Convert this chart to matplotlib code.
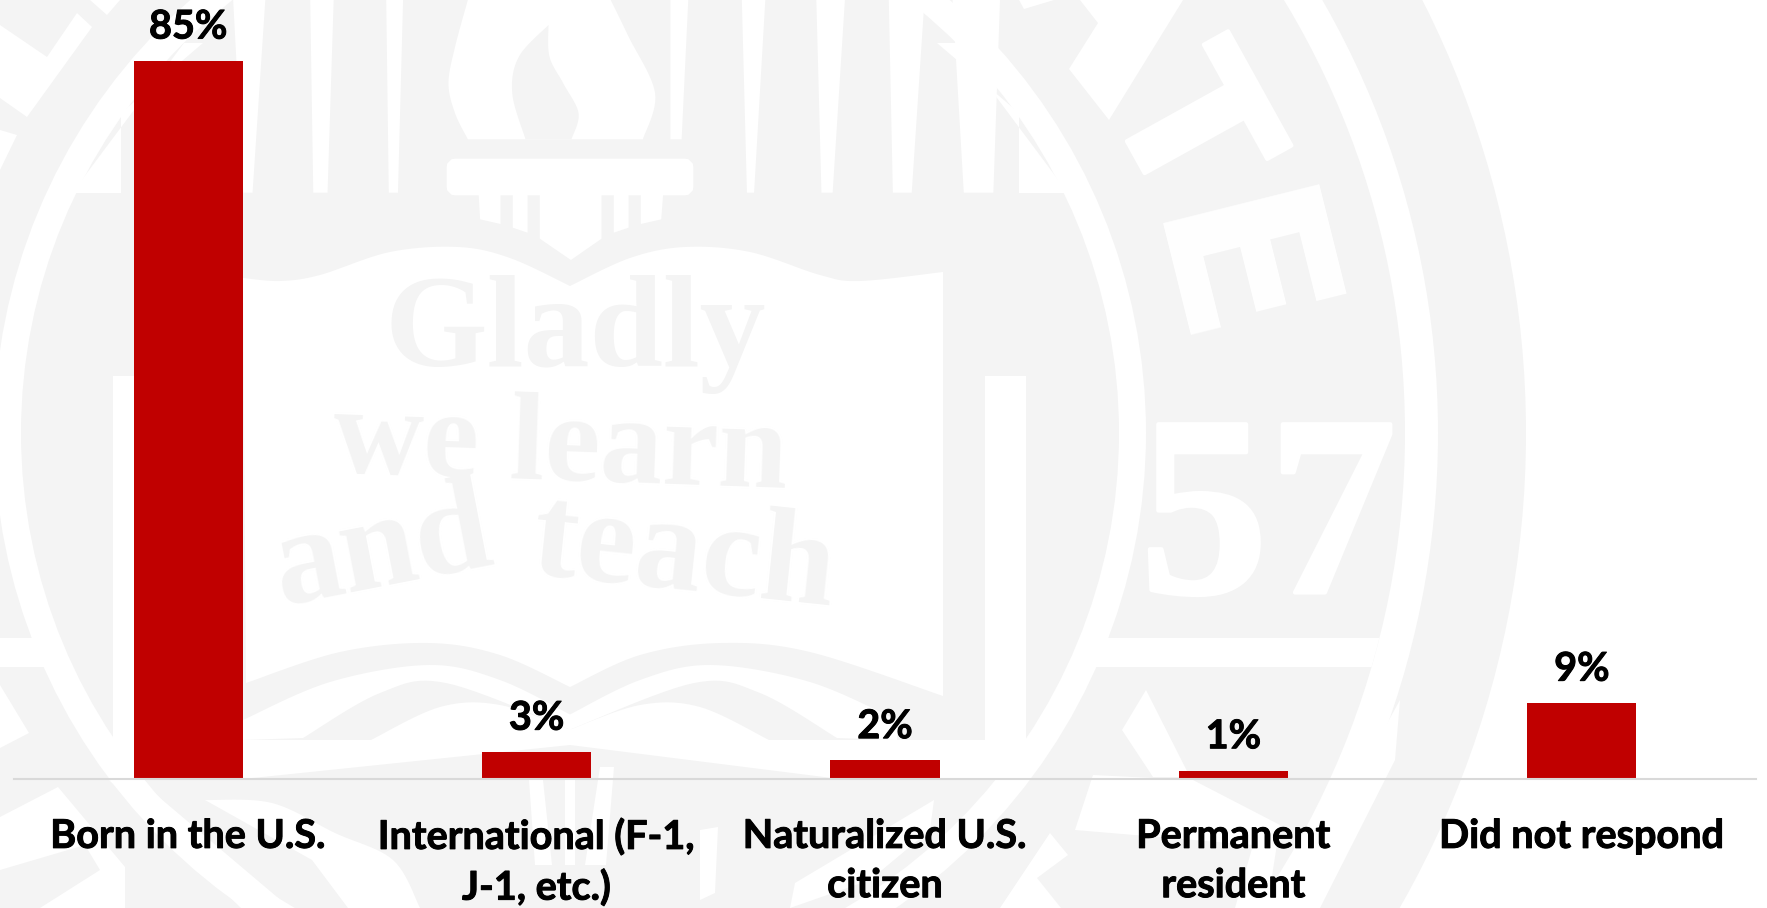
import matplotlib
matplotlib.use("Agg")
import matplotlib.pyplot as plt
import matplotlib.patheffects as pe
import numpy as np
from matplotlib.patches import Circle, Polygon, Rectangle, FancyBboxPatch

# chart data
categories = ["Born in the U.S.", "International (F-1,\nJ-1, etc.)", "Naturalized U.S.\ncitizen",
              "Permanent\nresident", "Did not respond"]
shares = [85, 3.2, 2.2, 1, 9]

BAR_RED = "#c00000"
MARK = "#f4f4f4"
FONT = "Lato"
THICK = [pe.withStroke(linewidth=0.7, foreground="black")]

fig = plt.figure(figsize=(17.67, 9.08), dpi=100, facecolor="white")

# watermark behind the chart, in pixels of the picture
bg = fig.add_axes([0, 0, 1, 1], zorder=0)
bg.set_xlim(0, 1767)
bg.set_ylim(908, 0)
bg.axis("off")

cx, cy = 570, 433


def ring(r, col):
    c = Circle((cx, cy), r, fc=col, ec="none")
    bg.add_patch(c)
    return c


def white(pts, col="white"):
    bg.add_patch(Polygon(pts, closed=True, fc=col, ec="none"))


def z2(pts):
    return [(200 + x / 1.96, y / 3) for x, y in pts]


def smooth(pts, n=12):
    # catmull-rom through the outline points
    p = np.array(pts, dtype=float)
    p = np.vstack([p[0], p, p[-1]])
    out = []
    for i in range(1, len(p) - 2):
        for t in np.linspace(0, 1, n, endpoint=False):
            out.append(0.5 * (2 * p[i] + (p[i + 1] - p[i - 1]) * t
                              + (2 * p[i - 1] - 5 * p[i] + 4 * p[i + 1] - p[i + 2]) * t ** 2
                              + (3 * p[i] - p[i - 1] - 3 * p[i + 1] + p[i + 2]) * t ** 3))
    out.append(p[-1])
    return [tuple(q) for q in out]


def mirror(pts):
    return [(2 * cx - x, y) for x, y in pts]


def letter(x, y, s, size, rot=0, col="white", lw=0, fam="Liberation Serif"):
    t = bg.text(x, y, s, color=col, fontsize=size, family=fam, weight="bold",
                rotation=rot, ha="center", va="center", rotation_mode="anchor")
    if lw:
        t.set_path_effects([pe.withStroke(linewidth=lw, foreground=col)])


ring(956, MARK)
ring(868, "white")
band = ring(835, MARK)
stripe = Rectangle((0, 638), 1767, 29, fc="white", ec="none")
bg.add_patch(stripe)
stripe.set_clip_path(band)

# ring letters
letter(1183, 131, "T", 140, -61, lw=3, fam="DejaVu Sans")
letter(1219, 281, "E", 160, -76, fam="DejaVu Sans")
letter(1268, 531, "57", 185, lw=3)

# what is left of the letters at the top edge
white([(1183, 0), (1109, 120), (1069, 69), (1098, 23), (1080, 0)])
white([(1019, 0), (1024, 9), (1054, 0)])
white([(1108, 0), (1112, 7), (1117, 0)])
white([(0, 25), (47, 57), (77, 13), (92, 27), (27, 117), (0, 98)])
white([(0, 130), (17, 135), (0, 170)])
white([(90, 0), (107, 15), (120, 0)])

# lower part of the ring band
white([(1146, 690), (1122, 730), (1153, 777), (1190, 777)])
white([(1093, 775), (1193, 780), (1280, 825), (1267, 908), (1235, 908), (1253, 845), (1075, 830)])
white([(1050, 833), (1068, 855), (1037, 878), (1061, 908), (1000, 908)])
white([(1400, 700), (1395, 760), (1320, 908), (1285, 908)])
white([(0, 685), (29, 733), (0, 748)])
white([(0, 817), (58, 787), (125, 867), (125, 908), (40, 908), (100, 870), (85, 845), (0, 870)])

ring(576, "white")
ring(549, MARK)

# rays above the torch
rays = [(65, 128, 85, 103, 578), (216, 262, 222, 250, 578), (365, 398, 370, 388, 578),
        (922, 957, 922, 944, 418), (1062, 1108, 1072, 1086, 578), (1208, 1264, 1218, 1240, 578),
        (1350, 1420, 1358, 1395, 578), (1475, 1568, 1497, 1555, 578)]
for a, b, c, d, e in rays:
    white(z2([(a, 0), (b, 0), (d, e), (c, e)]))

corner = [(72, 193), (121, 193), (121, 113), (203, 43), (184, 43)]
white(corner)
white(mirror(corner))

# torch
white(z2([(525, 418)]) + smooth(z2([(868, 418), (892, 280), (840, 110), (805, 0)])) +
      smooth(z2([(525, 0), (500, 140), (487, 250), (500, 340), (525, 418)])))
white(smooth(z2([(683, 75), (685, 170), (712, 250), (742, 340), (728, 418)])) +
      smooth(z2([(638, 418), (612, 280), (625, 170), (683, 75)])), MARK)
bg.add_patch(FancyBboxPatch((455, 167), 230, 20, boxstyle="round,pad=0,rounding_size=1",
                            fc="white", ec="white", lw=12))
white(z2([(546, 578), (908, 578), (904, 658), (864, 672), (864, 578), (840, 578), (840, 683),
          (811, 698), (811, 578), (787, 578), (787, 716), (727, 780), (666, 716), (666, 578),
          (642, 578), (642, 698), (613, 683), (613, 578), (589, 578), (589, 672), (549, 658)]))

# open book
book_top = [(243, 278), (280, 281), (320, 275), (390, 252), (458, 247), (510, 258), (570, 286)]
book_top_r = [(570, 286), (630, 258), (685, 247), (750, 252), (820, 275), (860, 281), (943, 272)]
book_low = [(246, 683), (340, 652), (429, 643), (500, 655), (570, 687)]
book_low_r = [(570, 687), (640, 655), (721, 643), (810, 652), (943, 696)]
white(smooth(book_top) + smooth(book_top_r) + smooth(book_low_r[::-1]) + smooth(book_low[::-1]))
white([(985, 376), (1026, 376), (1026, 779), (985, 779)])
white([(113, 376), (134, 376), (134, 779), (113, 779)])

# leaves under the book
leaf_up = [(243, 720), (330, 682), (429, 665), (500, 680), (571, 715)]
leaf_mid = [(571, 730), (446, 683), (380, 693), (303, 738)]
leaf_low = [(371, 740), (440, 707), (500, 705), (571, 730)]
white(smooth(leaf_up) + smooth(leaf_mid) + [(243, 740)])
white(mirror(smooth(leaf_up) + smooth(leaf_mid) + [(243, 740)]))
white(smooth(leaf_low) + [(571, 745), (371, 745)])
white(mirror(smooth(leaf_low) + [(571, 745), (371, 745)]))
white([(134, 740), (985, 740), (985, 779), (840, 779), (570, 745), (243, 779), (134, 779)])

# stems and leaves below the axis
white([(529, 780), (543, 780), (552, 865), (535, 865)])
white([(565, 780), (575, 780), (575, 865), (565, 865)])
white([(600, 767), (614, 767), (606, 865), (585, 865)])
white([(109, 780), (147, 787), (290, 908), (241, 908)])
white(smooth([(205, 800), (272, 803), (335, 833), (393, 860), (420, 908)]) + [(348, 908), (312, 860)])
white([(700, 830), (718, 827), (715, 893), (700, 900)])
white([(795, 883), (934, 800), (930, 830), (870, 880), (790, 908)])

# motto
letter(575, 335, "Gladly", 95, col=MARK)
letter(560, 450, "we learn", 90, -2, col=MARK)
letter(383, 552, "and", 98, 11, col=MARK)
letter(684, 558, "teach", 96, -6, col=MARK)

# the chart
ax = fig.add_axes([14 / 1767, (908 - 779) / 908, 1742 / 1767, 779 / 908], zorder=1)
ax.patch.set_alpha(0)
bars = ax.bar(range(len(categories)), shares, width=0.313, color=BAR_RED)
ax.set_xlim(-0.5, 4.5)
ax.set_ylim(0, 92.2)

for b, v in zip(bars, shares):
    ax.annotate(f"{v:.0f}%", (b.get_x() + b.get_width() / 2, v), xytext=(0, 11),
                textcoords="offset points", ha="center", va="bottom",
                fontsize=28.5, fontweight="bold", family=FONT, color="black",
                path_effects=THICK)

ax.set_xticks(range(len(categories)))
ax.set_xticklabels(categories, fontsize=28.5, fontweight="bold", family=FONT, color="black",
                   linespacing=1.41, path_effects=THICK)
ax.tick_params(axis="x", length=0, pad=28)
ax.yaxis.set_visible(False)
for s in ["top", "left", "right"]:
    ax.spines[s].set_visible(False)
ax.spines["bottom"].set_color("#d9d9d9")
ax.spines["bottom"].set_linewidth(1.5)

fig.savefig("out.png", dpi=100)
